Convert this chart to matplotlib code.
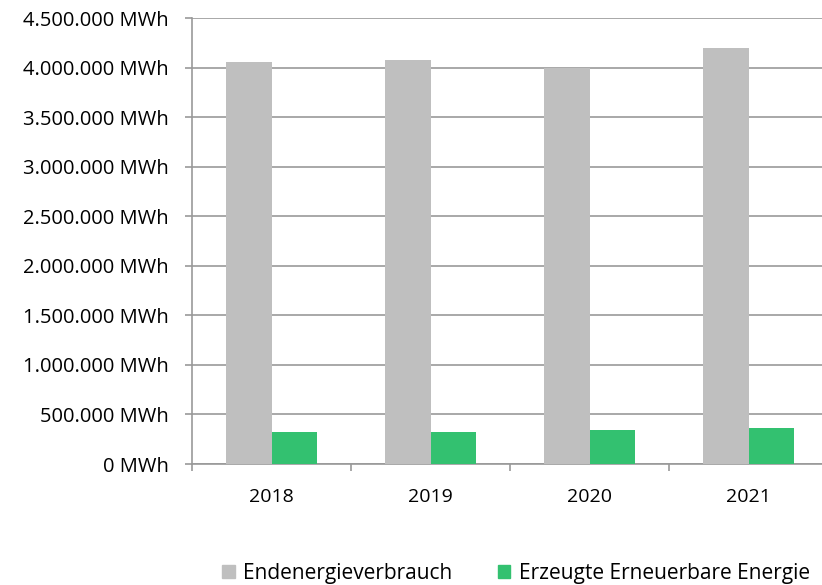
import matplotlib.pyplot as plt
import numpy as np
from matplotlib.ticker import FuncFormatter, FixedLocator
from matplotlib.patches import Patch

# data
years = ['2018', '2019', '2020', '2021']
verbrauch = [4060000, 4080000, 3995000, 4200000]
erneuerbar = [326000, 325000, 346000, 368000]

GRAY = '#bfbfbf'
GREEN = '#33c170'
AXIS = '#999999'

plt.rcParams['font.family'] = ['Open Sans', 'DejaVu Sans']

fig = plt.figure(figsize=(8.22, 5.85), dpi=100)
ax = fig.add_axes([192 / 822, 121 / 585, 636 / 822, 446 / 585])

x = np.arange(len(years))
w = 0.286
ax.bar(x - w / 2, verbrauch, w, color=GRAY, zorder=3, label='Endenergieverbrauch')
ax.bar(x + w / 2, erneuerbar, w, color=GREEN, zorder=3, label='Erzeugte Erneuerbare Energie')

ax.set_xlim(-0.5, len(years) - 0.5)
ax.set_ylim(0, 4500000)
ax.set_yticks(np.arange(0, 4500001, 500000))
ax.yaxis.set_major_formatter(FuncFormatter(lambda v, p: f"{v:,.0f}".replace(',', '.') + ' MWh'))
ax.yaxis.grid(True, color=AXIS, linewidth=1.2, zorder=0)

ax.set_xticks(x)
ax.set_xticklabels(years)
ax.xaxis.set_minor_locator(FixedLocator(np.arange(-0.5, len(years), 1)))
ax.tick_params(axis='x', which='major', length=0, pad=17, labelsize=14)
ax.tick_params(axis='x', which='minor', length=5, color=AXIS, width=1.2)
ax.tick_params(axis='y', length=5, color=AXIS, width=1.2, labelsize=14.5, pad=12)

for s in ['top', 'right']:
    ax.spines[s].set_visible(False)
for s in ['left', 'bottom']:
    ax.spines[s].set_color(AXIS)
    ax.spines[s].set_linewidth(1.2)

handles = [Patch(color=GRAY, label='Endenergieverbrauch'),
           Patch(color=GREEN, label='Erzeugte Erneuerbare Energie')]
fig.legend(handles=handles, loc='center', bbox_to_anchor=(516 / 822, 1 - 573 / 585),
           ncol=2, frameon=False, fontsize=15, handlelength=0.6, handleheight=0.6,
           handletextpad=0.4, columnspacing=2.2)

fig.savefig('out.png', dpi=100)
